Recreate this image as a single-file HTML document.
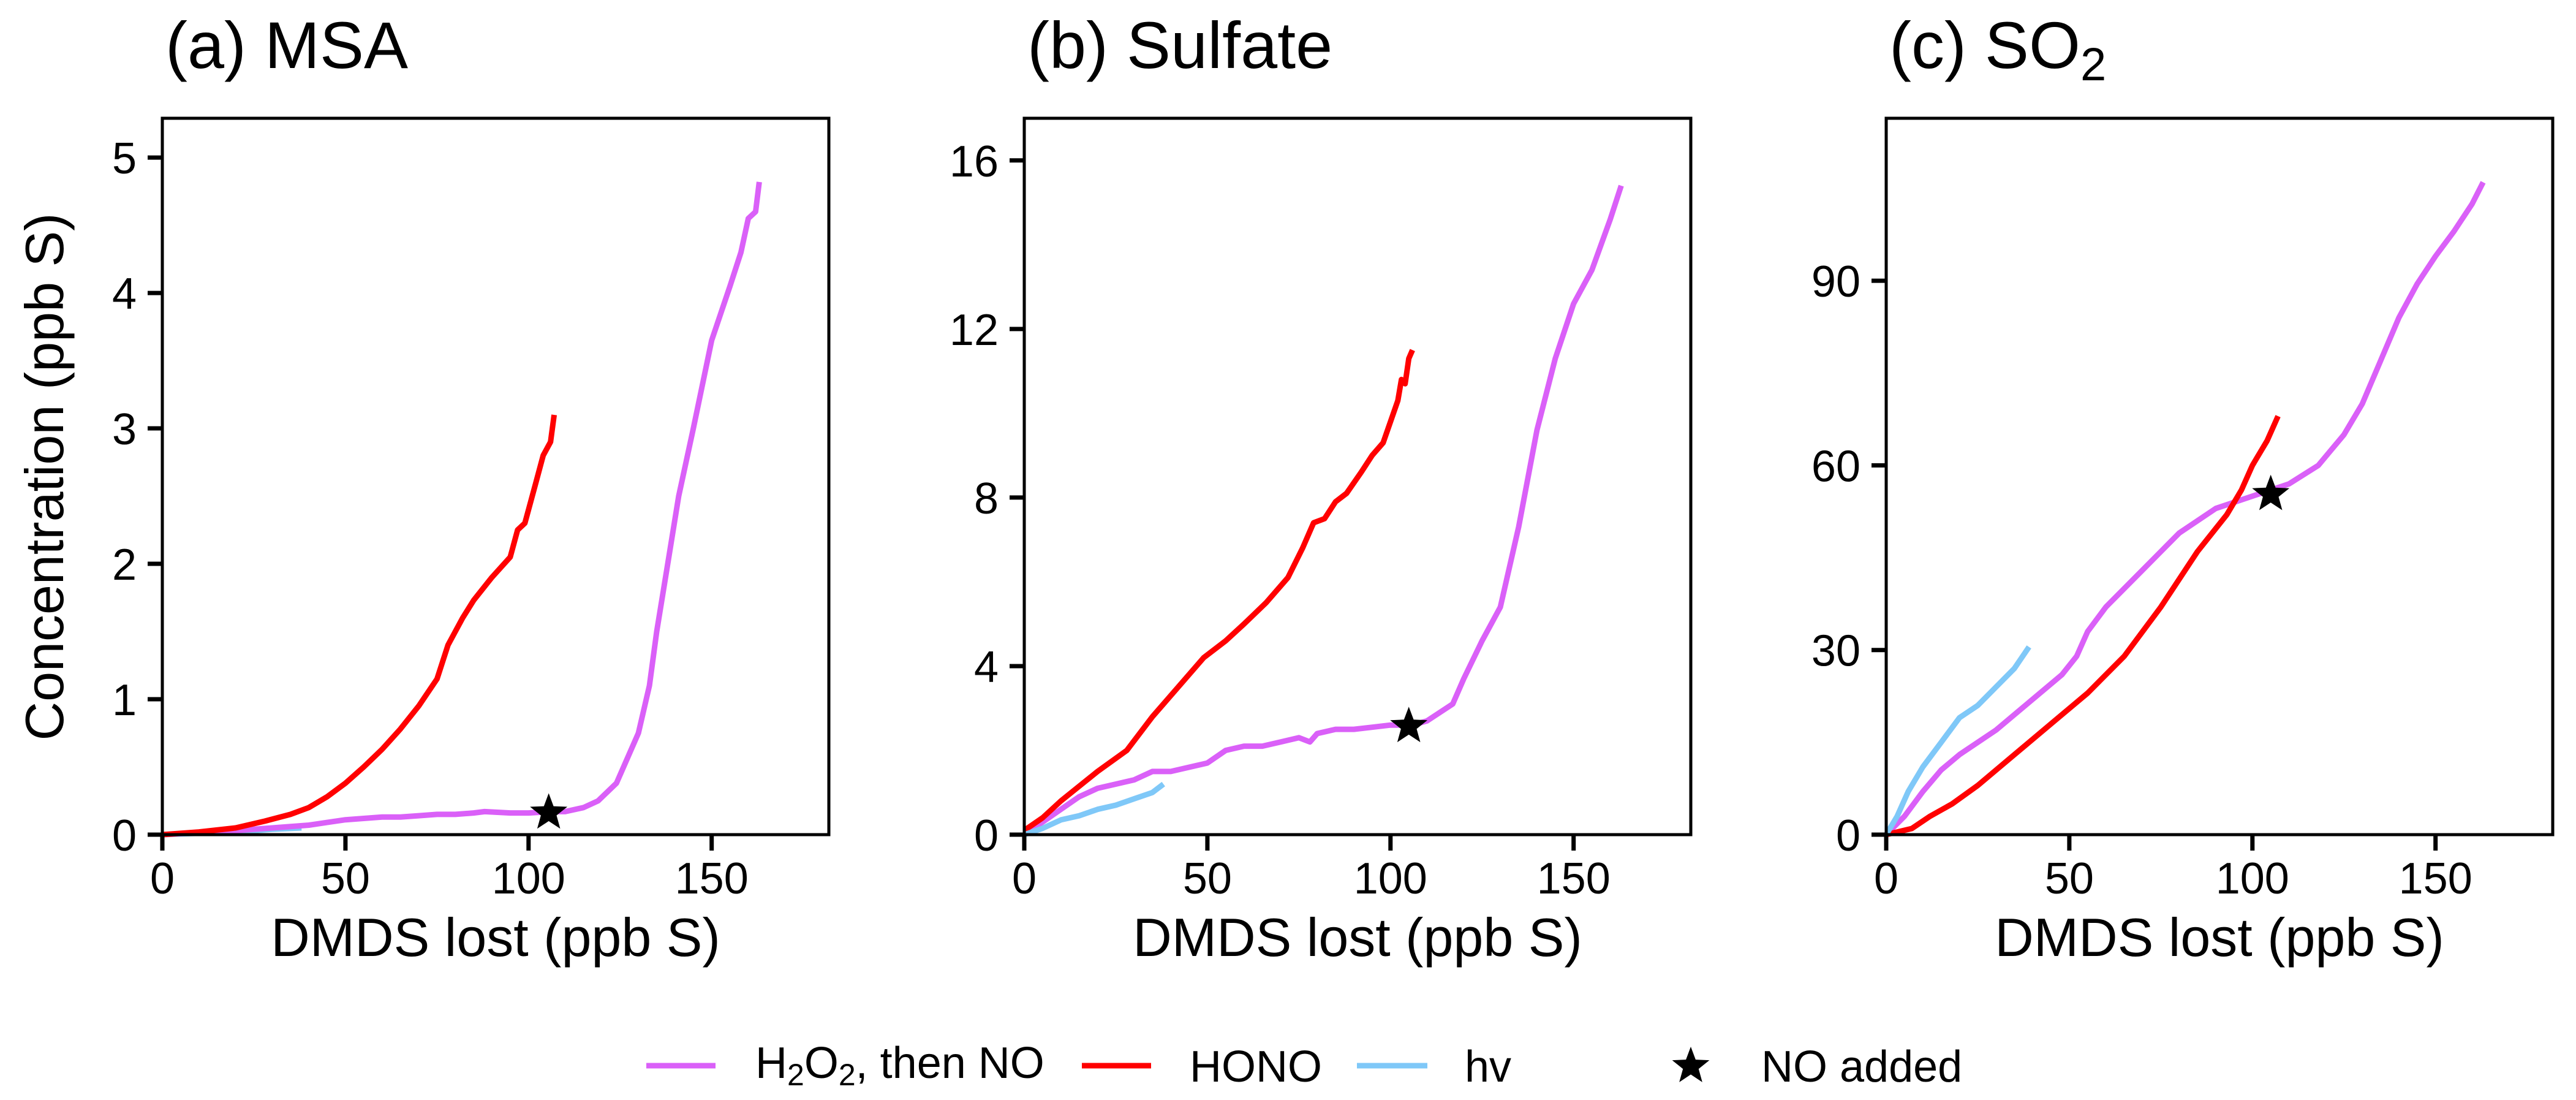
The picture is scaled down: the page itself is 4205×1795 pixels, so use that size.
<!DOCTYPE html>
<html><head><meta charset="utf-8"><style>
body{margin:0;background:#fff}
svg{display:block;font-family:"Liberation Sans",Arial,sans-serif}
</style></head><body>
<svg id="fig" width="4205" height="1795" viewBox="0 0 4205 1795" xmlns="http://www.w3.org/2000/svg">
<rect width="4205" height="1795" fill="#fff"/>
<g id="plots"></g>
<g font-size="72">
  <g>
    <line x1="1055" y1="1739" x2="1168" y2="1739" stroke="#DA60F8" stroke-width="9"/>
    <text x="1233" y="1759">H<tspan font-size="50" dy="12">2</tspan><tspan dy="-12">O</tspan><tspan font-size="50" dy="12">2</tspan><tspan dy="-12">, then NO</tspan></text>
  </g>
  <g>
    <line x1="1766" y1="1739" x2="1879" y2="1739" stroke="#FF0000" stroke-width="9"/>
    <text x="1942" y="1765">HONO</text>
  </g>
  <g>
    <line x1="2215" y1="1739" x2="2330" y2="1739" stroke="#7FC8F8" stroke-width="9"/>
    <text x="2391" y="1765">hv</text>
  </g>
  <g>
    <polygon id="legstar" fill="#000"/>
    <text x="2875" y="1765">NO added</text>
  </g>
</g>
</svg>
<script>
// ---- data ----
const msaH2O2X=[0,20,30,40,45,50,55,60,65,70,75,80,85,88,95,100,106,110,115,119,124,130,133,135,138,141,145,150,155,158,160,162,163];
const msaH2O2Y=[0,0.03,0.05,0.07,0.09,0.11,0.12,0.13,0.13,0.14,0.15,0.15,0.16,0.17,0.16,0.16,0.17,0.17,0.2,0.25,0.38,0.75,1.1,1.5,2.0,2.5,3.0,3.65,4.05,4.3,4.55,4.6,4.82];
const msaHonoX=[0,10,20,28,35,40,45,50,55,60,65,70,75,78,82,85,90,95,97,99,102,104,106,107];
const msaHonoY=[0,0.02,0.05,0.1,0.15,0.2,0.28,0.38,0.5,0.63,0.78,0.95,1.15,1.4,1.6,1.73,1.9,2.05,2.25,2.3,2.6,2.8,2.9,3.1];
const msaHvX=[0,10,20,30,38];
const msaHvY=[0,0.01,0.02,0.04,0.05];
const sulH2O2X=[0,5,10,15,20,25,30,35,40,45,50,55,60,65,70,75,78,80,85,90,95,100,106,110,117,120,125,130,135,140,145,150,155,160,163];
const sulH2O2Y=[0,0.3,0.6,0.9,1.1,1.2,1.3,1.5,1.5,1.6,1.7,2.0,2.1,2.1,2.2,2.3,2.2,2.4,2.5,2.5,2.55,2.6,2.6,2.7,3.1,3.7,4.6,5.4,7.3,9.6,11.3,12.6,13.4,14.6,15.4];
const sulHonoX=[0,5,10,20,28,35,42,49,55,60,66,72,76,79,82,85,88,92,95,98,100,102,103,104,105,106];
const sulHonoY=[0.1,0.4,0.8,1.5,2.0,2.8,3.5,4.2,4.6,5.0,5.5,6.1,6.8,7.4,7.5,7.9,8.1,8.6,9.0,9.3,9.8,10.3,10.8,10.7,11.3,11.5];
const sulHvX=[0,5,10,15,20,25,30,35,38];
const sulHvY=[0,0.15,0.35,0.45,0.6,0.7,0.85,1.0,1.2];
const so2H2O2X=[0,5,10,15,20,30,40,48,52,55,60,65,70,75,80,90,100,105,110,118,125,130,135,140,145,150,155,160,163];
const so2H2O2Y=[0,3,7,10.5,13,17,22,26,29,33,37,40,43,46,49,53,55,56,57,60,65,70,77,84,89.5,94,98,102.5,106];
const so2HonoX=[0,7,12,18,25,35,45,55,65,75,85,93,97,100,104,107];
const so2HonoY=[0,1,3,5,8,13,18,23,29,37,46,52,56,60,64,68];
const so2HvX=[0,3,6,10,15,20,25,30,35,39];
const so2HvY=[0,3,7,11,15,19,21,24,27,30.5];
const starX=[105.5,105,105];
const starY=[0.17,2.6,55.5];
const xTicks=[0,50,100,150];
const msaYTicks=[0,1,2,3,4,5];
const sulYTicks=[0,4,8,12,16];
const so2YTicks=[0,30,60,90];
const yMaxes=[5.29,17.0,116.4];

const NS="http://www.w3.org/2000/svg";
const root=document.getElementById('plots');
function mk(tag,attrs,parent){const e=document.createElementNS(NS,tag);for(const k in attrs)e.setAttribute(k,attrs[k]);parent.appendChild(e);return e;}
function starPts(cx,cy,R){const r=R*0.42;let a=[];for(let k=0;k<10;k++){const ang=-Math.PI/2+k*Math.PI/5;const rr=k%2?r:R;a.push((cx+rr*Math.cos(ang)).toFixed(1)+','+(cy+rr*Math.sin(ang)).toFixed(1));}return a.join(' ');}
document.getElementById('legstar').setAttribute('points',starPts(2760,1740,32));
const TOP=193,BOT=1362,W=1088,XMAX=182;
const panels=[
 {left:265,name:'msa',title:'(a) MSA',yt:msaYTicks,series:[[msaHvX,msaHvY,'#7FC8F8','hv'],[msaH2O2X,msaH2O2Y,'#DA60F8','h2o2'],[msaHonoX,msaHonoY,'#FF0000','hono']]},
 {left:1672,name:'sulfate',title:'(b) Sulfate',yt:sulYTicks,series:[[sulH2O2X,sulH2O2Y,'#DA60F8','h2o2'],[sulHonoX,sulHonoY,'#FF0000','hono'],[sulHvX,sulHvY,'#7FC8F8','hv']]},
 {left:3079,name:'so2',title:'(c) SO2',yt:so2YTicks,series:[[so2H2O2X,so2H2O2Y,'#DA60F8','h2o2'],[so2HonoX,so2HonoY,'#FF0000','hono'],[so2HvX,so2HvY,'#7FC8F8','hv']]}
];
panels.forEach((p,i)=>{
  const g=mk('g',{},root);
  
  
  const xs=v=>p.left+v/XMAX*W;
  const ys=v=>BOT-v/yMaxes[i]*(BOT-TOP);
  const t=mk('text',{x:p.left+5,y:111,'font-size':108},g);
  
  
  if(p.name==='so2'){t.innerHTML='(c) SO<tspan font-size="76" dy="20">2</tspan>';}else t.textContent=p.title;
  p.series.forEach(s=>{
    const pts=s[0].map((x,j)=>xs(x).toFixed(1)+','+ys(s[1][j]).toFixed(1)).join(' ');
    const pl=mk('polyline',{points:pts,fill:'none',stroke:s[2],'stroke-width':9,'stroke-linejoin':'round'},g);
    
    
  });
  const st=mk('polygon',{points:starPts(xs(starX[i]),ys(starY[i])+2,32),fill:'#000'},g);
  
  
  const box=mk('rect',{x:p.left,y:TOP,width:W,height:BOT-TOP,fill:'none',stroke:'#000','stroke-width':5},g);
  
  
  xTicks.forEach(v=>{
    const x=xs(v);
    const tl=mk('line',{x1:x,y1:BOT,x2:x,y2:BOT+26,stroke:'#000','stroke-width':7},g);
    
    
    const tx=mk('text',{x:x,y:1458,'font-size':72,'text-anchor':'middle'},g);
    tx.textContent=v;
    
    
  });
  p.yt.forEach(v=>{
    const y=ys(v);
    const tl=mk('line',{x1:p.left-24,y1:y,x2:p.left,y2:y,stroke:'#000','stroke-width':7},g);
    
    
    const tx=mk('text',{x:p.left-42,y:y+26,'font-size':72,'text-anchor':'end'},g);
    tx.textContent=v;
    
    
  });
  const xt=mk('text',{x:p.left+W/2,y:1560,'font-size':88,'text-anchor':'middle'},g);
  xt.textContent='DMDS lost (ppb S)';
  
  
});
const yt=mk('text',{x:0,y:0,'font-size':88,'text-anchor':'middle',transform:'translate(103,778) rotate(-90)'},root);
yt.textContent='Concentration (ppb S)';


</script>
</body></html>
